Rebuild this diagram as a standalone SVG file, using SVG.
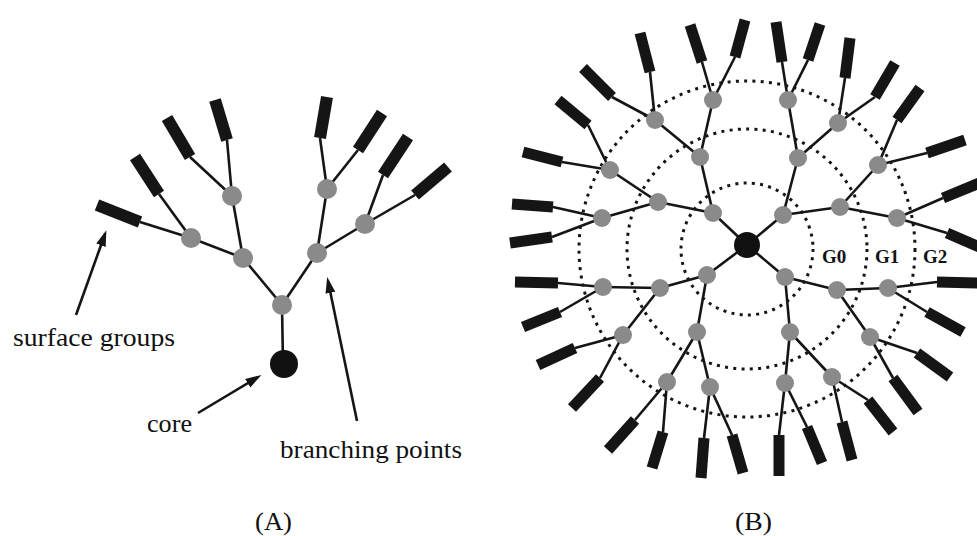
<svg xmlns="http://www.w3.org/2000/svg" width="977" height="536" viewBox="0 0 977 536">
<defs>
<style>
.ln{stroke:#151515;stroke-width:2.6;fill:none}
.sgA{stroke:#151515;stroke-width:12;stroke-linecap:butt}
.sgB{stroke:#151515;stroke-width:11;stroke-linecap:butt}
.bp{fill:#8a8a8a}
.core{fill:#111}
.ring{fill:none;stroke:#151515;stroke-width:3;stroke-dasharray:3 5.3}
.arr{stroke:#151515;stroke-width:2.6;fill:none}
.t{font-family:"Liberation Serif","Times New Roman",serif;font-size:26px;fill:#111}
.g{font-family:"Liberation Serif","Times New Roman",serif;font-size:19px;font-weight:bold;fill:#111}
</style>
<marker id="ah" markerUnits="userSpaceOnUse" markerWidth="17" markerHeight="12" refX="12" refY="5" orient="auto">
<path d="M0,0 L16,5 L0,10 z" fill="#151515"/>
</marker>
</defs>
<rect width="977" height="536" fill="#fff"/>

<!-- Panel B rings -->
<g id="rings">
<circle class="ring" cx="747" cy="249" r="66"/>
<circle class="ring" cx="747" cy="249" r="120"/>
<circle class="ring" cx="747" cy="249" r="168"/>
</g>

<g id="connectors">
<!-- Panel A -->
<line class="ln" x1="282" y1="305" x2="283" y2="364"/>
<line class="ln" x1="282" y1="305" x2="243" y2="258"/>
<line class="ln" x1="282" y1="305" x2="317" y2="253"/>
<line class="ln" x1="243" y1="258" x2="191" y2="238"/>
<line class="ln" x1="243" y1="258" x2="232" y2="196"/>
<line class="ln" x1="317" y1="253" x2="327" y2="189"/>
<line class="ln" x1="317" y1="253" x2="365" y2="224"/>
<line class="ln" x1="191" y1="238" x2="140" y2="222"/>
<line class="ln" x1="191" y1="238" x2="159" y2="194"/>
<line class="ln" x1="232" y1="196" x2="190" y2="157"/>
<line class="ln" x1="232" y1="196" x2="227" y2="140"/>
<line class="ln" x1="327" y1="189" x2="320" y2="138"/>
<line class="ln" x1="327" y1="189" x2="358" y2="150"/>
<line class="ln" x1="365" y1="224" x2="383" y2="175"/>
<line class="ln" x1="365" y1="224" x2="415" y2="195"/>
<!-- Panel B core to G0 -->
<line class="ln" x1="747" y1="245" x2="713" y2="213"/>
<line class="ln" x1="747" y1="245" x2="783" y2="215"/>
<line class="ln" x1="747" y1="245" x2="707" y2="275"/>
<line class="ln" x1="747" y1="245" x2="785" y2="277"/>
<!-- G0 to G1 -->
<line class="ln" x1="713" y1="213" x2="700" y2="157"/>
<line class="ln" x1="713" y1="213" x2="658" y2="202"/>
<line class="ln" x1="783" y1="215" x2="798" y2="158"/>
<line class="ln" x1="783" y1="215" x2="840" y2="207"/>
<line class="ln" x1="707" y1="275" x2="660" y2="288"/>
<line class="ln" x1="707" y1="275" x2="697" y2="332"/>
<line class="ln" x1="785" y1="277" x2="837" y2="290"/>
<line class="ln" x1="785" y1="277" x2="790" y2="332"/>
<!-- G1 to G2 -->
<line class="ln" x1="700" y1="157" x2="713" y2="100"/>
<line class="ln" x1="700" y1="157" x2="655" y2="120"/>
<line class="ln" x1="658" y1="202" x2="610" y2="170"/>
<line class="ln" x1="658" y1="202" x2="602" y2="218"/>
<line class="ln" x1="798" y1="158" x2="788" y2="100"/>
<line class="ln" x1="798" y1="158" x2="838" y2="123"/>
<line class="ln" x1="840" y1="207" x2="878" y2="165"/>
<line class="ln" x1="840" y1="207" x2="897" y2="218"/>
<line class="ln" x1="660" y1="288" x2="603" y2="287"/>
<line class="ln" x1="660" y1="288" x2="623" y2="335"/>
<line class="ln" x1="697" y1="332" x2="667" y2="382"/>
<line class="ln" x1="697" y1="332" x2="710" y2="387"/>
<line class="ln" x1="837" y1="290" x2="888" y2="288"/>
<line class="ln" x1="837" y1="290" x2="870" y2="337"/>
<line class="ln" x1="790" y1="332" x2="785" y2="383"/>
<line class="ln" x1="790" y1="332" x2="832" y2="377"/>
<!-- G2 to surface groups -->
<line class="ln" x1="713" y1="100" x2="702" y2="62"/>
<line class="ln" x1="713" y1="100" x2="735" y2="57"/>
<line class="ln" x1="655" y1="120" x2="650" y2="72"/>
<line class="ln" x1="655" y1="120" x2="612" y2="97"/>
<line class="ln" x1="610" y1="170" x2="588" y2="125"/>
<line class="ln" x1="610" y1="170" x2="562" y2="162"/>
<line class="ln" x1="602" y1="218" x2="553" y2="207"/>
<line class="ln" x1="602" y1="218" x2="552" y2="237"/>
<line class="ln" x1="788" y1="100" x2="782" y2="62"/>
<line class="ln" x1="788" y1="100" x2="808" y2="60"/>
<line class="ln" x1="838" y1="123" x2="845" y2="78"/>
<line class="ln" x1="838" y1="123" x2="875" y2="97"/>
<line class="ln" x1="878" y1="165" x2="897" y2="120"/>
<line class="ln" x1="878" y1="165" x2="927" y2="153"/>
<line class="ln" x1="897" y1="218" x2="943" y2="198"/>
<line class="ln" x1="897" y1="218" x2="947" y2="233"/>
<line class="ln" x1="603" y1="287" x2="558" y2="283"/>
<line class="ln" x1="603" y1="287" x2="560" y2="312"/>
<line class="ln" x1="623" y1="335" x2="575" y2="348"/>
<line class="ln" x1="623" y1="335" x2="600" y2="378"/>
<line class="ln" x1="667" y1="382" x2="635" y2="420"/>
<line class="ln" x1="667" y1="382" x2="663" y2="432"/>
<line class="ln" x1="710" y1="387" x2="704" y2="438"/>
<line class="ln" x1="710" y1="387" x2="732" y2="435"/>
<line class="ln" x1="785" y1="383" x2="779" y2="435"/>
<line class="ln" x1="785" y1="383" x2="807" y2="427"/>
<line class="ln" x1="832" y1="377" x2="842" y2="422"/>
<line class="ln" x1="832" y1="377" x2="868" y2="400"/>
<line class="ln" x1="870" y1="337" x2="893" y2="378"/>
<line class="ln" x1="870" y1="337" x2="917" y2="353"/>
<line class="ln" x1="888" y1="288" x2="927" y2="312"/>
<line class="ln" x1="888" y1="288" x2="937" y2="282"/>
<!-- label arrows -->
<line class="arr" x1="76" y1="315" x2="105" y2="234" marker-end="url(#ah)"/>
<line class="arr" x1="198" y1="413" x2="258" y2="377" marker-end="url(#ah)"/>
<line class="arr" x1="357" y1="421" x2="328" y2="281" marker-end="url(#ah)"/>
</g>

<!-- Panel A surface groups -->
<g id="A-surface">
<line id="A-s1" class="sgA" x1="140" y1="222" x2="97" y2="205"/>
<line id="A-s2" class="sgA" x1="159" y1="194" x2="135" y2="157"/>
<line id="A-s3" class="sgA" x1="190" y1="157" x2="167" y2="118"/>
<line id="A-s4" class="sgA" x1="227" y1="140" x2="215" y2="100"/>
<line id="A-s5" class="sgA" x1="320" y1="138" x2="327" y2="97"/>
<line id="A-s6" class="sgA" x1="358" y1="150" x2="382" y2="113"/>
<line id="A-s7" class="sgA" x1="383" y1="175" x2="408" y2="137"/>
<line id="A-s8" class="sgA" x1="415" y1="195" x2="448" y2="167"/>
</g>

<!-- Panel A nodes -->
<g id="A-core"><circle class="core" cx="284" cy="364" r="14"/></g>
<g id="A-b0"><circle class="bp" cx="282" cy="305" r="10"/></g>
<g id="A-b1"><circle class="bp" cx="243" cy="258" r="10"/></g>
<g id="A-b2"><circle class="bp" cx="317" cy="253" r="10"/></g>
<g id="A-b3"><circle class="bp" cx="191" cy="238" r="10"/></g>
<g id="A-b4"><circle class="bp" cx="232" cy="196" r="10"/></g>
<g id="A-b5"><circle class="bp" cx="327" cy="189" r="10"/></g>
<g id="A-b6"><circle class="bp" cx="365" cy="224" r="10"/></g>

<!-- Panel B surface groups -->
<g id="B-surface">
<line class="sgB" x1="702" y1="62" x2="690" y2="25"/>
<line class="sgB" x1="735" y1="57" x2="745" y2="20"/>
<line class="sgB" x1="650" y1="72" x2="640" y2="33"/>
<line class="sgB" x1="612" y1="97" x2="583" y2="68"/>
<line class="sgB" x1="588" y1="125" x2="558" y2="100"/>
<line class="sgB" x1="562" y1="162" x2="523" y2="152"/>
<line class="sgB" x1="553" y1="207" x2="512" y2="204"/>
<line class="sgB" x1="552" y1="237" x2="510" y2="243"/>
<line class="sgB" x1="782" y1="62" x2="776" y2="22"/>
<line class="sgB" x1="808" y1="60" x2="820" y2="24"/>
<line class="sgB" x1="845" y1="78" x2="850" y2="38"/>
<line class="sgB" x1="875" y1="97" x2="895" y2="63"/>
<line class="sgB" x1="897" y1="120" x2="920" y2="88"/>
<line class="sgB" x1="927" y1="153" x2="965" y2="140"/>
<line class="sgB" x1="943" y1="198" x2="982" y2="182"/>
<line class="sgB" x1="947" y1="233" x2="986" y2="250"/>
<line class="sgB" x1="558" y1="283" x2="515" y2="282"/>
<line class="sgB" x1="560" y1="312" x2="523" y2="327"/>
<line class="sgB" x1="575" y1="348" x2="538" y2="365"/>
<line class="sgB" x1="600" y1="378" x2="572" y2="408"/>
<line class="sgB" x1="635" y1="420" x2="608" y2="450"/>
<line class="sgB" x1="663" y1="432" x2="652" y2="468"/>
<line class="sgB" x1="704" y1="438" x2="701" y2="478"/>
<line class="sgB" x1="732" y1="435" x2="743" y2="473"/>
<line class="sgB" x1="779" y1="435" x2="779" y2="476"/>
<line class="sgB" x1="807" y1="427" x2="822" y2="463"/>
<line class="sgB" x1="842" y1="422" x2="852" y2="460"/>
<line class="sgB" x1="868" y1="400" x2="893" y2="432"/>
<line class="sgB" x1="893" y1="378" x2="918" y2="412"/>
<line class="sgB" x1="917" y1="353" x2="950" y2="377"/>
<line class="sgB" x1="927" y1="312" x2="963" y2="332"/>
<line class="sgB" x1="937" y1="282" x2="982" y2="283"/>
</g>

<!-- Panel B nodes -->
<g id="B-core"><circle class="core" cx="747" cy="245" r="13"/></g>
<g id="B-g0">
<circle class="bp" cx="713" cy="213" r="9"/>
<circle class="bp" cx="783" cy="215" r="9"/>
<circle class="bp" cx="707" cy="275" r="9"/>
<circle class="bp" cx="785" cy="277" r="9"/>
</g>
<g id="B-g1">
<circle class="bp" cx="700" cy="157" r="9"/>
<circle class="bp" cx="658" cy="202" r="9"/>
<circle class="bp" cx="798" cy="158" r="9"/>
<circle class="bp" cx="840" cy="207" r="9"/>
<circle class="bp" cx="660" cy="288" r="9"/>
<circle class="bp" cx="697" cy="332" r="9"/>
<circle class="bp" cx="837" cy="290" r="9"/>
<circle class="bp" cx="790" cy="332" r="9"/>
</g>
<g id="B-g2">
<circle class="bp" cx="713" cy="100" r="9"/>
<circle class="bp" cx="655" cy="120" r="9"/>
<circle class="bp" cx="610" cy="170" r="9"/>
<circle class="bp" cx="602" cy="218" r="9"/>
<circle class="bp" cx="788" cy="100" r="9"/>
<circle class="bp" cx="838" cy="123" r="9"/>
<circle class="bp" cx="878" cy="165" r="9"/>
<circle class="bp" cx="897" cy="218" r="9"/>
<circle class="bp" cx="603" cy="287" r="9"/>
<circle class="bp" cx="623" cy="335" r="9"/>
<circle class="bp" cx="667" cy="382" r="9"/>
<circle class="bp" cx="710" cy="387" r="9"/>
<circle class="bp" cx="785" cy="383" r="9"/>
<circle class="bp" cx="832" cy="377" r="9"/>
<circle class="bp" cx="870" cy="337" r="9"/>
<circle class="bp" cx="888" cy="288" r="9"/>
</g>

<!-- Labels -->
<g id="labels">
<text class="t" x="13" y="346" textLength="162" lengthAdjust="spacingAndGlyphs">surface groups</text>
<text class="t" x="147" y="432" textLength="45" lengthAdjust="spacingAndGlyphs">core</text>
<text class="t" x="280" y="458" textLength="182" lengthAdjust="spacingAndGlyphs">branching points</text>
<text class="t" x="255" y="530" textLength="37" lengthAdjust="spacingAndGlyphs">(A)</text>
<text class="t" x="735" y="530" textLength="37" lengthAdjust="spacingAndGlyphs">(B)</text>
<text class="g" x="822" y="263">G0</text>
<text class="g" x="875" y="263">G1</text>
<text class="g" x="923" y="263">G2</text>
</g>
</svg>
